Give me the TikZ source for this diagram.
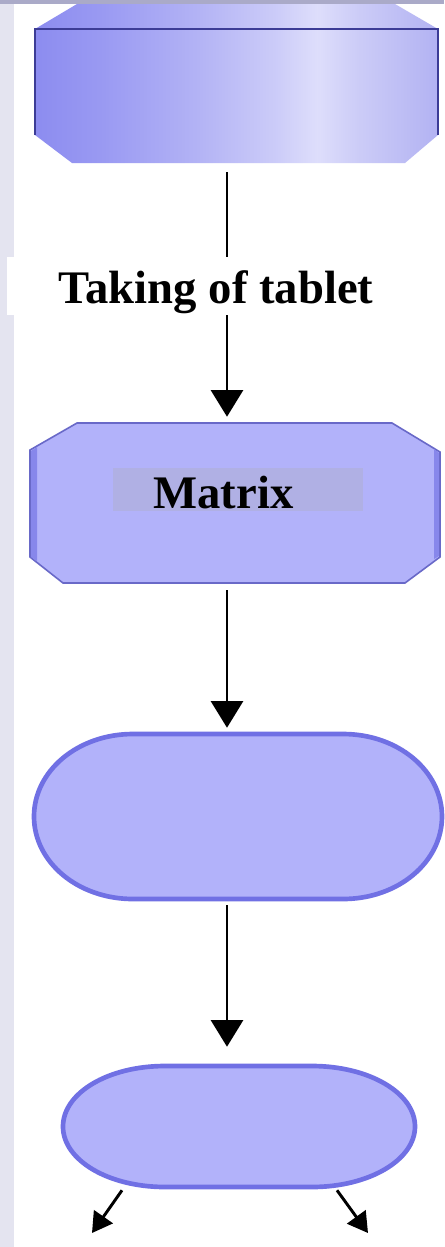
\documentclass[tikz,border=0pt]{standalone}
\usepackage{fontspec}
\setmainfont{Liberation Serif}
\usetikzlibrary{arrows.meta,fit}
\definecolor{stripc}{RGB}{228,228,240}
\definecolor{topstrip}{RGB}{170,170,200}
\definecolor{boxfill}{RGB}{178,178,250}
\definecolor{boxedge}{RGB}{112,112,228}
\definecolor{octedge}{RGB}{105,105,200}
\definecolor{darkline}{RGB}{60,60,150}
\definecolor{matlbl}{RGB}{176,176,228}
\definecolor{sideband}{RGB}{135,135,235}
\pgfdeclarehorizontalshading{topsh}{100bp}{rgb(0bp)=(0.55,0.55,0.94); rgb(25bp)=(0.55,0.55,0.94); rgb(33bp)=(0.6,0.6,0.95); rgb(45bp)=(0.70,0.70,0.96); rgb(55bp)=(0.80,0.80,0.975); rgb(60bp)=(0.87,0.87,0.985); rgb(65bp)=(0.80,0.80,0.97); rgb(75bp)=(0.70,0.70,0.95); rgb(100bp)=(0.70,0.70,0.95)}
\begin{document}
\begin{tikzpicture}[x=0.75pt,y=-0.75pt,
  anchorbox/.style={inner sep=0pt, draw=none},
  arr/.style={draw=black, line width=2.2pt, -{Triangle[width=24pt,length=20pt]}},
  arrsmall/.style={draw=black, line width=2.2pt, -{Triangle[width=17pt,length=15pt]}},
  bigtext/.style={anchor=base, font=\bfseries\fontsize{35}{40}\selectfont, inner sep=0pt}]
\useasboundingbox (0,0) rectangle (444,1247);
\fill[white] (0,0) rectangle (444,1247);
\fill[stripc] (0,0) rectangle (14,1247);

% anchor nodes for the four shapes
\node[anchorbox, fit={(35,4) (438,163)}] (b1) {};
\node[anchorbox, fit={(30,423) (440,583)}] (b2) {};
\node[anchorbox, fit={(33,733) (443,900)}] (b3) {};
\node[anchorbox, fit={(62,1065) (416,1188)}] (b4) {};
\coordinate (axis) at (227,0);
\coordinate (lt) at (92,1233);
\coordinate (rt) at (368,1233);

% top shape
\shade[shading=topsh] (77,4) -- (395,4) -- (438,29) -- (438,135) -- (405,163) -- (72,163) -- (35,135) -- (35,29) -- cycle;
\draw[darkline, line width=1.5pt] (35,135) -- (35,29) -- (438,29) -- (438,135);
\fill[topstrip] (0,0) rectangle (444,4);

% matrix shape
\filldraw[fill=boxfill, draw=octedge, line width=1.2pt] (77,423) -- (392,423) -- (440,452) -- (440,557) -- (405,583) -- (63,583) -- (30,557) -- (30,450) -- cycle;
\fill[sideband] (31,451) -- (37,447) -- (37,561) -- (31,557) -- cycle;
\fill[sideband] (434,449) -- (439,453) -- (439,556) -- (434,559) -- cycle;

% stadium
\filldraw[fill=boxfill, draw=boxedge, line width=3.5pt] (133,734) -- (343,734) .. controls (398.2,734) and (442,770.9) .. (442,816.5) .. controls (442,862.1) and (398.2,899) .. (343,899) -- (133,899) .. controls (77.8,899) and (34,862.1) .. (34,816.5) .. controls (34,770.9) and (77.8,734) .. (133,734) -- cycle;

% oval
\filldraw[fill=boxfill, draw=boxedge, line width=3.5pt] (165,1066) -- (312,1066) .. controls (369,1066) and (415,1093) .. (415,1126.5) .. controls (415,1160) and (369,1187) .. (312,1187) -- (165,1187) .. controls (108,1187) and (63,1160) .. (63,1126.5) .. controls (63,1093) and (108,1066) .. (165,1066) -- cycle;

% connectors
\draw[arr, shorten <=6.75pt, shorten >=4.5pt] (b1.south -| axis) -- (b2.north -| axis);
\draw[arr, shorten <=5.25pt, shorten >=3.75pt] (b2.south -| axis) -- (b3.north -| axis);
\draw[arr, shorten <=3.75pt, shorten >=13.5pt] (b3.south -| axis) -- (b4.north -| axis);
\draw[arrsmall] ([xshift=-87.75pt,yshift=-1.5pt]b4.south) -- (lt);
\draw[arrsmall] ([xshift=73.5pt,yshift=-1.5pt]b4.south) -- (rt);

% labels
\node[anchorbox, fill=white, fit={(7,257) (431,315)}] (lblbox) {};
\node[bigtext] (lbl) at (216,303) {Taking of tablet};
\node[anchorbox, fill=matlbl, fit={(113,468) (363,511)}] (mlblbox) {};
\node[bigtext] (mlbl) at (223.5,508) {Matrix};
\end{tikzpicture}
\end{document}
